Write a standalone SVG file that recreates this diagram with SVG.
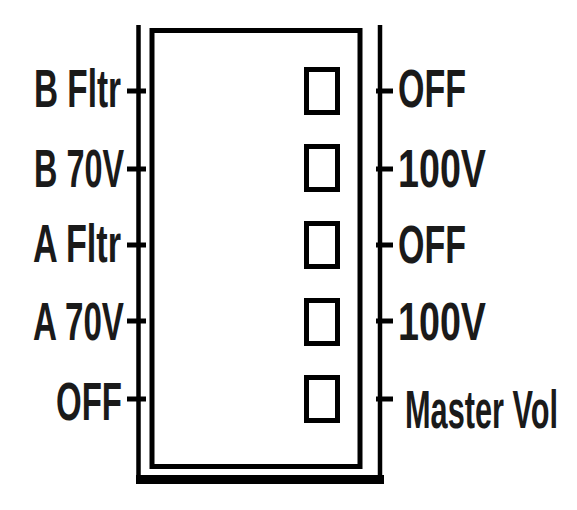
<svg xmlns="http://www.w3.org/2000/svg" width="577" height="510" viewBox="0 0 577 510">
<style>
.ln{stroke:#000;fill:none}
.box{stroke:#000;stroke-width:5;fill:none}
.tick{stroke:#000;stroke-width:5}
.lbl{font-family:"Liberation Sans Narrow","Liberation Sans",Arial,sans-serif;font-weight:bold;font-size:54px;fill:#1a1a1a}
</style>
<rect width="577" height="510" fill="#fff"/>
<g id="frame">
<line class="ln" x1="138.5" y1="25" x2="138.5" y2="480" stroke-width="4.5"/>
<line class="ln" x1="380" y1="25" x2="380" y2="480" stroke-width="4.5"/>
<rect x="136" y="475" width="248" height="9" fill="#000"/>
<rect class="ln" x="152" y="30.5" width="208" height="436" stroke-width="5"/>
</g>
<g id="connectors">
<line class="tick" x1="127" y1="91" x2="146" y2="91"/>
<line class="tick" x1="127" y1="169" x2="146" y2="169"/>
<line class="tick" x1="127" y1="245" x2="146" y2="245"/>
<line class="tick" x1="127" y1="321" x2="146" y2="321"/>
<line class="tick" x1="127" y1="399" x2="146" y2="399"/>
<line class="tick" x1="376" y1="91" x2="393" y2="91"/>
<line class="tick" x1="376" y1="169" x2="393" y2="169"/>
<line class="tick" x1="376" y1="245" x2="393" y2="245"/>
<line class="tick" x1="376" y1="321" x2="393" y2="321"/>
<line class="tick" x1="376" y1="399" x2="393" y2="399"/>
</g>
<g id="switch1"><rect class="box" x="306.5" y="69.5" width="31" height="43"/></g>
<g id="switch2"><rect class="box" x="306.5" y="146.5" width="31" height="43"/></g>
<g id="switch3"><rect class="box" x="306.5" y="223.5" width="31" height="43"/></g>
<g id="switch4"><rect class="box" x="306.5" y="300.5" width="31" height="43"/></g>
<g id="switch5"><rect class="box" x="306.5" y="377.5" width="31" height="43"/></g>
<g id="labels-left">
<text class="lbl" x="34" y="107" textLength="87" lengthAdjust="spacingAndGlyphs">B Fltr</text>
<text class="lbl" x="34" y="187" textLength="90" lengthAdjust="spacingAndGlyphs">B 70V</text>
<text class="lbl" x="33" y="262" textLength="88" lengthAdjust="spacingAndGlyphs">A Fltr</text>
<text class="lbl" x="33" y="340" textLength="91" lengthAdjust="spacingAndGlyphs">A 70V</text>
<text class="lbl" x="56" y="420" textLength="66" lengthAdjust="spacingAndGlyphs">OFF</text>
</g>
<g id="labels-right">
<text class="lbl" x="398" y="107" textLength="68" lengthAdjust="spacingAndGlyphs">OFF</text>
<text class="lbl" x="398" y="187" textLength="88" lengthAdjust="spacingAndGlyphs">100V</text>
<text class="lbl" x="398" y="263" textLength="68" lengthAdjust="spacingAndGlyphs">OFF</text>
<text class="lbl" x="398" y="340" textLength="88" lengthAdjust="spacingAndGlyphs">100V</text>
<text class="lbl" x="405" y="428" textLength="153" lengthAdjust="spacingAndGlyphs">Master Vol</text>
</g>
</svg>
